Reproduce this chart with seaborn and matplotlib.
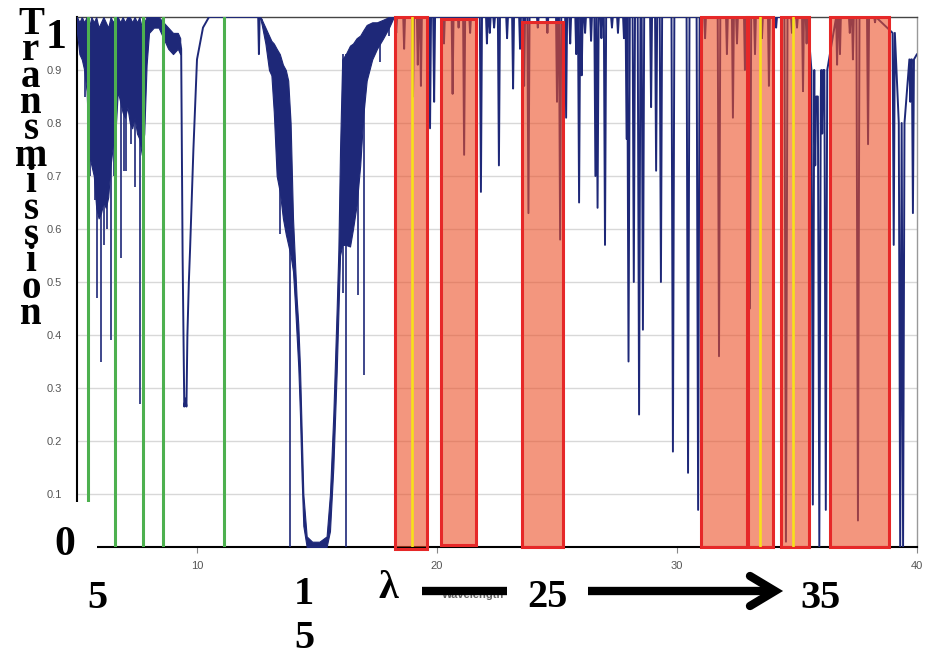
import matplotlib
matplotlib.use("Agg")
import matplotlib.pyplot as plt
import seaborn as sns
from matplotlib.patches import Rectangle
from matplotlib.lines import Line2D

W, H = 932, 660

# --- water vapour band 5-9.3 um (dense lines -> envelope) ---
water_x = [5.0, 5.1, 5.2, 5.3, 5.4, 5.5, 5.6, 5.7, 5.8, 5.9, 6.0, 6.1, 6.2, 6.3, 6.4, 6.5, 6.6, 6.7, 6.8,
           6.9, 7.0, 7.1, 7.2, 7.3, 7.4, 7.5, 7.6, 7.7, 7.8, 7.9, 8.0, 8.2, 8.4, 8.6, 8.8, 9.0, 9.2, 9.3]
water_hi = [1.0, 0.99, 1.0, 0.99, 1.0, 0.98, 1.0, 0.99, 1.0, 0.98, 0.99, 1.0, 0.99, 0.98, 1.0, 0.99, 1.0, 1.0, 0.99,
            1.0, 0.99, 1.0, 1.0, 0.99, 1.0, 0.99, 1.0, 0.98, 0.99, 1.0, 1.0, 1.0, 1.0, 0.99, 0.98, 0.97, 0.97, 0.96]
water_lo = [0.97, 0.93, 0.92, 0.90, 0.86, 0.74, 0.72, 0.70, 0.64, 0.62, 0.63, 0.65, 0.64, 0.66, 0.72, 0.76, 0.78, 0.86, 0.84,
            0.82, 0.81, 0.83, 0.80, 0.79, 0.81, 0.78, 0.77, 0.74, 0.78, 0.91, 0.97, 0.98, 0.98, 0.96, 0.94, 0.93, 0.94, 0.93]
water_spike_x = [5.33, 5.55, 5.75, 5.85, 6.0, 6.12, 6.25, 6.4, 6.55, 6.83, 6.95, 7.05, 7.25, 7.42, 7.63, 7.75]
water_spike_lo = [0.85, 0.70, 0.655, 0.47, 0.35, 0.57, 0.60, 0.39, 0.70, 0.545, 0.71, 0.71, 0.76, 0.68, 0.27, 0.71]

# --- ozone band + 10-12.5 um window ---
ozone_x = [9.30, 9.34, 9.40, 9.47, 9.52, 9.56, 9.60, 9.66, 9.71, 9.85, 10.0, 10.25, 10.5,
           12.45, 12.55, 12.58, 12.61, 12.7]
ozone_y = [0.95, 0.94, 0.55, 0.265, 0.28, 0.265, 0.40, 0.50, 0.56, 0.75, 0.92, 0.98, 1.0,
           1.0, 1.0, 0.93, 1.0, 0.995]

# --- CO2 band 12.6-18.2 um (envelope) ---
co2_x = [12.62, 12.7, 12.85, 13.0, 13.1, 13.2, 13.32, 13.45, 13.58, 13.7, 13.8, 13.9, 14.0, 14.08,
         14.15, 14.22, 14.29, 14.36, 14.43, 14.57, 14.8, 15.1, 15.4, 15.54, 15.68, 15.82, 15.89, 15.96,
         16.05, 16.2, 16.375, 16.5, 16.65, 16.8, 16.93, 17.07, 17.3, 17.5, 17.76, 18.0, 18.2]
co2_hi = [1.0, 0.995, 0.98, 0.965, 0.955, 0.95, 0.94, 0.93, 0.91, 0.9, 0.88, 0.80, 0.62, 0.54,
          0.47, 0.42, 0.34, 0.22, 0.10, 0.02, 0.01, 0.01, 0.02, 0.10, 0.25, 0.45, 0.56, 0.75,
          0.92, 0.93, 0.946, 0.95, 0.96, 0.965, 0.975, 0.985, 0.99, 0.99, 0.995, 1.0, 1.0]
co2_lo = [1.0, 0.985, 0.95, 0.90, 0.89, 0.82, 0.70, 0.67, 0.62, 0.59, 0.57, 0.55, 0.52, 0.46,
          0.40, 0.34, 0.25, 0.13, 0.04, 0.0, 0.0, 0.0, 0.0, 0.03, 0.15, 0.33, 0.44, 0.55,
          0.57, 0.57, 0.567, 0.6, 0.645, 0.72, 0.815, 0.88, 0.92, 0.94, 0.96, 0.98, 1.0]
co2_spike_x = [13.46, 13.875, 16.1, 16.2, 16.72, 16.96, 17.63, 18.0]
co2_spike_lo = [0.59, 0.0, 0.48, 0.0, 0.475, 0.325, 0.915, 0.965]
co2_spike_hi = [0.9, 0.815, 0.93, 0.93, 0.95, 0.97, 0.99, 1.0]

# --- isolated lines 18.2-40 um ---
dip_x = [18.3, 18.63, 19.0, 19.2, 19.33, 19.71, 19.88, 20.29, 20.65, 20.9,
         21.13, 21.38, 21.83, 22.08, 22.2, 22.38, 22.58, 22.92, 23.17, 23.46,
         23.63, 23.81, 24.2, 24.6, 25.0, 25.13, 25.38, 25.55, 25.8, 25.92,
         26.03, 26.17, 26.42, 26.6, 26.69, 26.85, 27.0, 27.29, 27.54, 27.79,
         27.9, 27.98, 28.2, 28.42, 28.58, 28.92, 29.13, 29.33, 29.83, 30.46,
         30.88, 31.17, 31.75, 32.08, 32.33, 32.5, 32.83, 33.04, 33.25, 33.54,
         33.83, 34.13, 34.54, 34.79, 35.0, 35.25, 35.4, 35.66, 35.76, 35.93,
         36.05, 36.2, 36.67, 36.79, 37.2, 37.33, 37.54, 37.96, 38.25, 39.03,
         39.3, 39.42, 39.72, 39.83]
dip_min = [0.97, 0.94, 0.85, 0.91, 0.87, 0.79, 0.84, 0.95, 0.855, 0.98,
           0.74, 0.97, 0.67, 0.95, 0.97, 0.98, 0.72, 0.96, 0.865, 0.94,
           0.87, 0.63, 0.98, 0.97, 0.84, 0.58, 0.81, 0.95, 0.93, 0.65,
           0.89, 0.97, 0.955, 0.70, 0.64, 0.96, 0.57, 0.98, 0.97, 0.96,
           0.77, 0.35, 0.50, 0.25, 0.41, 0.83, 0.71, 0.50, 0.18, 0.14,
           0.07, 0.96, 0.36, 0.93, 0.81, 0.95, 0.90, 0.45, 0.93, 0.96,
           0.87, 0.98, 0.01, 0.97, 0.98, 0.86, 0.95, 0.08, 0.72, 0.0,
           0.78, 0.07, 0.91, 0.93, 0.97, 0.92, 0.05, 0.76, 0.99, 0.57,
           0.0, 0.0, 0.84, 0.63]
dip_top = [1.0] * 67 + [0.9, 0.85, 0.85, 0.9, 0.9] + [1.0] * 7 + [0.97, 0.8, 0.8, 0.92, 0.92]
spec_start = (18.2, 1.0)
spec_end = (40.0, 0.93)

# --- overlays ---
green_x = [5.47, 6.58, 7.76, 8.6, 11.14]
yellow_x = [18.95, 33.46, 34.85]
box_x0 = [18.25, 20.17, 23.53, 31.0, 32.9, 34.33, 36.37]
box_x1 = [19.57, 21.63, 25.24, 32.97, 34.01, 35.5, 38.85]
box_y0 = [-0.004, 0.004, 0.0, 0.0, 0.0, 0.0, 0.0]
box_y1 = [1.0, 0.997, 0.99, 1.0, 1.0, 1.0, 1.0]

y_ticks = [0.1, 0.2, 0.3, 0.4, 0.5, 0.6, 0.7, 0.8, 0.9]
x_ticks = [10, 20, 30, 40]

sns.set_style("white")
plt.rcParams["font.family"] = ["Liberation Sans", "DejaVu Sans"]

fig = plt.figure(figsize=(W / 100, H / 100), dpi=100)
ax = fig.add_axes([77 / W, 1 - 547 / H, 840 / W, 530 / H])

navy = "#1e2878"
zs = 2.6

# spectrum
ax.fill_between(water_x, water_lo, water_hi, color=navy, lw=0.8, zorder=zs)
ax.vlines(water_spike_x, water_spike_lo, 0.9, color=navy, lw=1.2, zorder=zs)
sns.lineplot(x=ozone_x, y=ozone_y, sort=False, estimator=None, color=navy, lw=1.4, ax=ax, zorder=zs)
ax.fill_between(co2_x, co2_lo, co2_hi, color=navy, lw=0.8, zorder=zs)
ax.vlines(co2_spike_x, co2_spike_lo, co2_spike_hi, color=navy, lw=1.2, zorder=zs)

sx, sy = [spec_start[0]], [spec_start[1]]
for c, lo, top in zip(dip_x, dip_min, dip_top):
    w = 0.035 + 0.03 * (top - lo)
    sx += [c - w, c, c + w]
    sy += [top, lo, top]
sx.append(spec_end[0])
sy.append(spec_end[1])
sns.lineplot(x=sx, y=sy, sort=False, estimator=None, color=navy, lw=1.4, ax=ax, zorder=zs)

# highlighted windows
for x0, x1, y0, y1 in zip(box_x0, box_x1, box_y0, box_y1):
    ax.add_patch(Rectangle((x0, y0), x1 - x0, y1 - y0, facecolor="#eb5028", alpha=0.6,
                           edgecolor="none", zorder=3))
    ax.add_patch(Rectangle((x0, y0), x1 - x0, y1 - y0, facecolor="none",
                           edgecolor="#e62828", lw=2.2, zorder=3.5, clip_on=False))
for x in yellow_x:
    ax.axvline(x, color="#f7e01c", lw=1.9, zorder=4)
for x in green_x:
    ax.axvline(x, color="#4db04f", lw=2.2, zorder=4)

ax.set_xlim(5, 40)
ax.set_ylim(0, 1)
ax.set_xticks(x_ticks)
ax.set_xticklabels([str(t) for t in x_ticks])
ax.set_yticks(y_ticks)
ax.set_yticklabels([f"{t:.1f}" for t in y_ticks])
ax.yaxis.grid(True, color="#d8d8d8", lw=1.0)
ax.xaxis.grid(False)
ax.set_axisbelow(True)
ax.tick_params(axis="y", left=False, length=0, pad=11, labelsize=8, labelcolor="#555555")
ax.tick_params(axis="x", bottom=True, length=4, width=0.8, color="#888888", pad=6,
               labelsize=8, labelcolor="#555555")
ax.set_xlabel("Wavelength", fontsize=8, fontweight="bold", color="#666666")
ax.xaxis.label.set_ha("left")
ax.xaxis.label.set_va("baseline")
ax.xaxis.set_label_coords((442 - 77) / 840, -(598 - 547) / 530)
for s in ["left", "bottom"]:
    ax.spines[s].set_color("black")
    ax.spines[s].set_linewidth(1.5)
ax.spines["top"].set_color("#444444")
ax.spines["top"].set_linewidth(1.0)
ax.spines["right"].set_color("#999999")
ax.spines["right"].set_linewidth(1.0)


def fx(px):
    return px / W


def fy(py):
    return 1 - py / H


# white patches behind the big labels
fig.add_artist(Rectangle((fx(37), fy(575)), 60 / W, 73 / H, transform=fig.transFigure,
                         facecolor="white", edgecolor="none", zorder=5))
fig.add_artist(Rectangle((fx(508), fy(620)), 80 / W, 65 / H, transform=fig.transFigure,
                         facecolor="white", edgecolor="none", zorder=5))

serif = dict(family=["Liberation Serif", "DejaVu Serif"], fontweight="bold", color="black",
             ha="center", zorder=6)

fig.text(fx(31), fy(6), "\n".join("Transmission"), fontsize=28, linespacing=0.62,
         va="top", multialignment="center", **serif)
fig.text(fx(56), fy(48), "1", fontsize=30, va="baseline", **serif)
fig.text(fx(65), fy(555), "0", fontsize=30, va="baseline", **serif)
fig.text(fx(97), fy(608), "5", fontsize=29, va="baseline", **serif)
fig.text(fx(304), fy(576), "1\n5", fontsize=29, linespacing=1.24, va="top",
         multialignment="center", **serif)
fig.text(fx(388), fy(598), "λ", fontsize=29, va="baseline", **serif)
fig.text(fx(547), fy(607), "25", fontsize=29, va="baseline", **serif)
fig.text(fx(821), fy(608), "35", fontsize=29, va="baseline", **serif)

# arrow pieces
fig.add_artist(Line2D([fx(422), fx(507)], [fy(591), fy(591)], transform=fig.transFigure,
                      color="black", lw=6, solid_capstyle="butt", zorder=6))
fig.add_artist(Line2D([fx(588), fx(772)], [fy(591), fy(591)], transform=fig.transFigure,
                      color="black", lw=6, solid_capstyle="butt", zorder=6))
fig.add_artist(Line2D([fx(750), fx(775), fx(750)], [fy(576), fy(591), fy(606)],
                      transform=fig.transFigure, color="black", lw=6,
                      solid_capstyle="round", solid_joinstyle="miter", zorder=6))

fig.savefig("out.png", dpi=100, facecolor="white")
